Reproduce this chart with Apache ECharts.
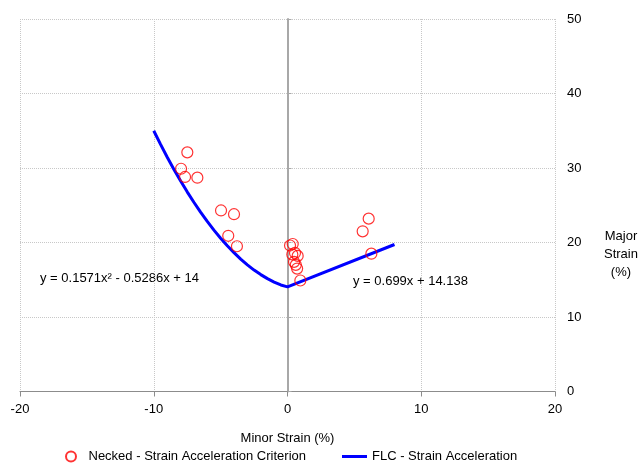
<!DOCTYPE html>
<html><head><meta charset="utf-8">
<script src="https://cdn.jsdelivr.net/npm/echarts@6/dist/echarts.min.js"></script>
<style>html,body{margin:0;padding:0;background:#fff;}#c{width:642px;height:463px;}</style>
</head><body><div id="c"></div>
<script>
// Necked points (minor strain %, major strain %)
const neckedX = [-7.49, -7.96, -7.66, -6.74, -4.97, -4.00, -4.43, -3.78, 0.19, 0.39, 0.36, 0.56, 0.76, 0.49, 0.62, 0.72, 0.96, 6.07, 5.62, 6.27];
const neckedY = [32.1, 29.9, 28.8, 28.7, 24.3, 23.8, 20.9, 19.5, 19.6, 19.8, 18.4, 18.6, 18.2, 17.4, 17.0, 16.5, 14.9, 23.2, 21.5, 18.5];
// FLC curve
const flcX = [-10, -9.5, -9, -8.5, -8, -7.5, -7, -6.5, -6, -5.5, -5, -4.5, -4, -3.5, -3, -2.5, -2, -1.5, -1, -0.5, 0, 8];
const flcY = [35.0, 33.2, 31.48, 29.84, 28.28, 26.8, 25.4, 24.07, 22.83, 21.66, 20.57, 19.56, 18.63, 17.77, 17.0, 16.3, 15.69, 15.15, 14.69, 14.3, 14.05, 19.73];
const xTicks = [-20, -10, 0, 10, 20];
const yTicks = [0, 10, 20, 30, 40, 50];
const eqLeft = "y = 0.1571x\u00b2 - 0.5286x + 14";
const eqRight = "y = 0.699x + 14.138";

const FONT = "Arial, 'Liberation Sans', sans-serif";
const chart = echarts.init(document.getElementById('c'), null, {renderer: 'canvas'});
chart.setOption({
  animation: false,
  backgroundColor: '#fff',
  textStyle: {fontFamily: FONT},
  grid: {left: 20, right: 87, top: 19, bottom: 71.5, containLabel: false},
  xAxis: {
    type: 'value', min: xTicks[0], max: xTicks[xTicks.length - 1], interval: 10,
    name: 'Minor Strain (%)', nameLocation: 'middle', nameGap: 40,
    nameTextStyle: {color: '#000', fontSize: 13, fontFamily: FONT},
    axisLine: {onZero: false, lineStyle: {color: '#8c8c8c', width: 1}},
    axisTick: {show: true, length: 5, lineStyle: {color: '#8c8c8c'}},
    axisLabel: {color: '#000', fontSize: 13, margin: 11, fontFamily: FONT},
    splitLine: {show: true, lineStyle: {color: '#c8c8c8', type: [1, 1], width: 1}}
  },
  yAxis: [{
    type: 'value', min: yTicks[0], max: yTicks[yTicks.length - 1], interval: 10,
    position: 'right',
    axisLine: {show: false, onZero: false},
    axisTick: {show: false},
    axisLabel: {color: '#000', fontSize: 13, margin: 12, fontFamily: FONT, align: 'left'},
    splitLine: {show: true, lineStyle: {color: '#c8c8c8', type: [1, 1], width: 1}}
  }, {
    type: 'value', min: yTicks[0], max: yTicks[yTicks.length - 1], interval: 10,
    position: 'left',
    axisLine: {show: true, onZero: true, lineStyle: {color: '#a8a8a8', width: 2}},
    axisTick: {show: true, inside: true, length: 4, lineStyle: {color: '#a8a8a8'}},
    axisLabel: {show: false},
    splitLine: {show: false}
  }],
  legend: {
    left: 60, top: 445, itemGap: 36, itemWidth: 25, itemHeight: 10,
    textStyle: {color: '#000', fontSize: 13, fontFamily: FONT},
    data: [
      {name: 'Necked - Strain Acceleration Criterion', icon: 'circle'},
      {name: 'FLC - Strain Acceleration', icon: 'path://M0,0h25v3h-25z'}
    ]
  },
  graphic: [
    {type: 'text', left: 604, top: 227, style: {text: 'Major\nStrain\n(%)', fill: '#000', font: '13px ' + FONT, lineHeight: 18, textAlign: 'center', align: 'center'}},
    {type: 'text', left: 40, top: 272, style: {text: eqLeft, fill: '#000', font: '13px ' + FONT}},
    {type: 'text', left: 353, top: 275, style: {text: eqRight, fill: '#000', font: '13px ' + FONT}}
  ],
  series: [{
    name: 'FLC - Strain Acceleration', type: 'line', yAxisIndex: 0,
    data: flcX.map((x, i) => [x, flcY[i]]),
    symbol: 'none', smooth: false,
    lineStyle: {color: '#0000ff', width: 3},
    itemStyle: {color: '#0000ff'}, z: 2
  }, {
    name: 'Necked - Strain Acceleration Criterion', type: 'scatter', yAxisIndex: 0,
    data: neckedX.map((x, i) => [x, neckedY[i]]),
    symbol: 'circle', symbolSize: 11,
    itemStyle: {color: 'rgba(255,255,255,0)', borderColor: '#ff0000', borderWidth: 1.2}, z: 3
  }]
});
</script></body></html>
